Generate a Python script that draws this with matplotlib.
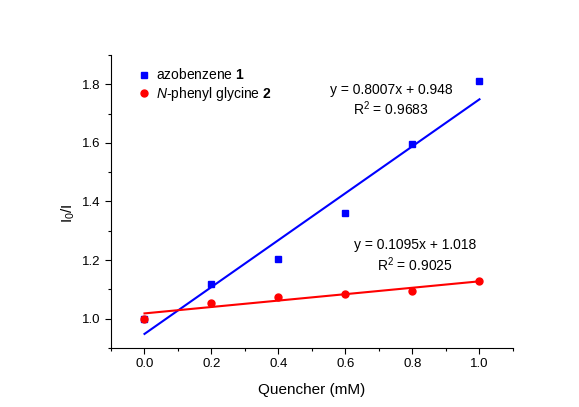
import numpy as np
import matplotlib.pyplot as plt
from matplotlib.ticker import MultipleLocator

plt.rcParams['font.family'] = ['Liberation Sans', 'DejaVu Sans']
plt.rcParams['mathtext.fontset'] = 'custom'
plt.rcParams['mathtext.rm'] = 'Liberation Sans'
plt.rcParams['mathtext.it'] = 'Liberation Sans:italic'
plt.rcParams['mathtext.bf'] = 'Liberation Sans:bold'

quencher = [0.0, 0.2, 0.4, 0.6, 0.8, 1.0]
azo = [1.0, 1.12, 1.205, 1.36, 1.595, 1.81]
npg = [1.0, 1.055, 1.075, 1.085, 1.093, 1.128]
azo_fit = [0.8007, 0.948]
npg_fit = [0.1095, 1.018]

fig = plt.figure(figsize=(5.79, 4.07), dpi=100)
ax = fig.add_axes([0.1917, 0.145, 0.6943, 0.72])

xs = np.array([0.0, 1.0])
ax.plot(xs, np.polyval(azo_fit, xs), color='#0000ff', lw=1.5, zorder=2)
ax.plot(xs, np.polyval(npg_fit, xs), color='#ff0000', lw=1.5, zorder=2)
ax.plot(quencher, azo, 's', color='#0000ff', ms=5, ls='none', zorder=3,
        label=r'azobenzene $\mathbf{1}$')
ax.plot(quencher, npg, 'o', color='#ff0000', ms=5, ls='none', zorder=4,
        label=r'$\mathit{N}$-phenyl glycine $\mathbf{2}$')

ax.text(0.736, 1.78, 'y = 0.8007x + 0.948', fontsize=10, ha='center', va='center')
ax.text(0.736, 1.715, r'R$^2$ = 0.9683', fontsize=10, ha='center', va='center')
ax.text(0.808, 1.251, 'y = 0.1095x + 1.018', fontsize=10, ha='center', va='center')
ax.text(0.808, 1.183, r'R$^2$ = 0.9025', fontsize=10, ha='center', va='center')

ax.set_xlim(-0.1, 1.1)
ax.set_ylim(0.9, 1.9)
ax.xaxis.set_minor_locator(MultipleLocator(0.1))
ax.yaxis.set_minor_locator(MultipleLocator(0.1))
ax.set_xticks([0.0, 0.2, 0.4, 0.6, 0.8, 1.0])
ax.set_yticks([1.0, 1.2, 1.4, 1.6, 1.8])
ax.spines['top'].set_visible(False)
ax.spines['right'].set_visible(False)
ax.tick_params(which='both', direction='out', labelsize=9.5, width=0.8)
ax.tick_params(which='major', length=4)
ax.tick_params(which='minor', length=2.5)
ax.set_xlabel('Quencher (mM)', fontsize=11, labelpad=9)
ax.set_ylabel(r'I$_0$/I', fontsize=11)
ax.yaxis.set_label_coords(-0.085, 0.46)

ax.legend(loc='upper left', frameon=False, fontsize=10, handletextpad=0.3,
          handlelength=1.2, bbox_to_anchor=(0.03, 1.0), labelspacing=0.2)

fig.savefig('out.png', dpi=100)
